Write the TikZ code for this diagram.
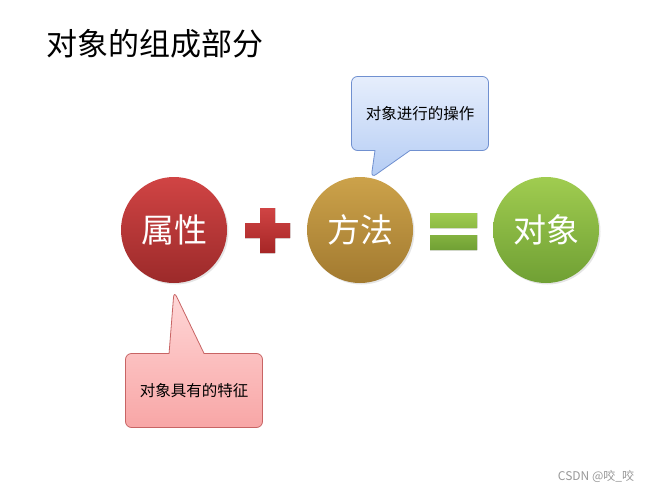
\documentclass[tikz,border=0pt]{standalone}
\usepackage{fontspec}
\setmainfont{Noto Sans CJK SC}
\usepackage{xcolor}
\usepackage{tikz}
\usetikzlibrary{shapes.callouts, shadows}
\definecolor{attrtop}{HTML}{D04444}
\definecolor{attrbot}{HTML}{9C2A2A}
\definecolor{methtop}{HTML}{CCA24A}
\definecolor{methbot}{HTML}{A27A30}
\definecolor{objtop}{HTML}{A0CC50}
\definecolor{objbot}{HTML}{70A034}
\definecolor{optop}{HTML}{E6EEFC}
\definecolor{opbot}{HTML}{B4CCF4}
\definecolor{opline}{HTML}{7090D0}
\definecolor{fttop}{HTML}{FFD8D8}
\definecolor{ftbot}{HTML}{F8A6A6}
\definecolor{ftline}{HTML}{C86464}
\tikzstyle{part}  = [circle, minimum size=106pt, inner sep=0pt, text=white,
                     font=\fontsize{33}{33}\selectfont,
                     drop shadow={opacity=0.2, shadow xshift=1.5pt, shadow yshift=-1.5pt}]
\tikzstyle{note}  = [rectangle callout, rounded corners=6pt, line width=0.8pt,
                     minimum width=137pt, minimum height=74pt, callout pointer width=35pt,
                     font=\fontsize{15.5}{15.5}\selectfont]
\tikzset{every node/.style={align=center}}

\begin{document}
\begin{tikzpicture}[x=1pt, y=-1pt]
    \fill[white] (0,0) rectangle (652,492);
    \useasboundingbox (0,0) rectangle (652,492);

    \node (title) at (43, 44) [anchor=west, font=\fontsize{31}{31}\selectfont] {对象的组成部分};

    \node (attr) at (174, 230) [part, top color=attrtop, bottom color=attrbot] {属性};
    \node (meth) at (360, 230) [part, top color=methtop, bottom color=methbot] {方法};
    \node (obj)  at (546, 230) [part, top color=objtop,  bottom color=objbot]  {对象};

    % plus and equals signs
    \fill[top color=attrtop, bottom color=attrbot!90!red]
        (245,223) rectangle (290,238) (260,208) rectangle (275,253);
    \fill[top color=objtop, bottom color=objbot]
        (430,213) rectangle (477,228) (430,235) rectangle (477,250);

    \coordinate (attrtip) at ([yshift=-8pt]attr.south);
    \node (opnote) at (420, 113.5) [note, draw=opline, top color=optop, bottom color=opbot,
          callout absolute pointer={(meth.78)}] {对象进行的操作};
    \node (ftnote) at (194, 390.5) [note, draw=ftline, top color=fttop, bottom color=ftbot,
          callout absolute pointer={(attrtip)}] {对象具有的特征};

    \node (mark) at (596, 476) [text=gray!80, font=\fontsize{12}{12}\selectfont] {CSDN @咬\_咬};
\end{tikzpicture}
\end{document}
